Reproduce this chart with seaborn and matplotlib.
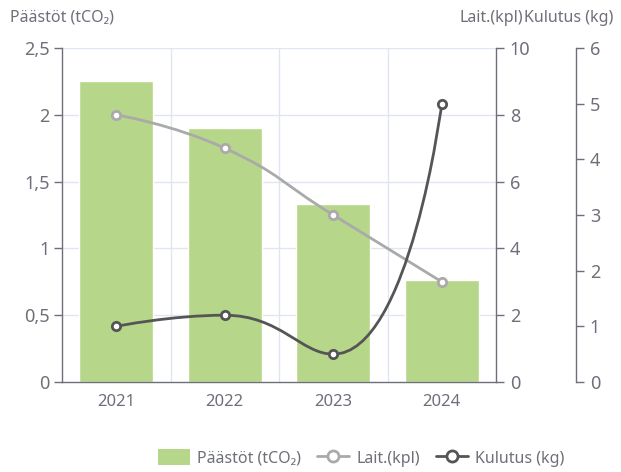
import numpy as np
import pandas as pd
import matplotlib
matplotlib.use("Agg")
import matplotlib.pyplot as plt
from matplotlib.path import Path
from matplotlib.patches import PathPatch, Patch
from matplotlib.lines import Line2D
import seaborn as sns

# ---- data ----
years = ["2021", "2022", "2023", "2024"]
paastot = [2.25, 1.90, 1.33, 0.76]
laitteet = [8.0, 7.0, 5.0, 3.0]
kulutus = [1.0, 1.2, 0.5, 5.0]
left_ticks = [0, 0.5, 1, 1.5, 2, 2.5]
left_ticklabels = ["0", "0,5", "1", "1,5", "2", "2,5"]
mid_ticks = [0, 2, 4, 6, 8, 10]
right_ticks = [0, 1, 2, 3, 4, 5, 6]

sns.set_theme(style="white")
plt.rcParams["font.family"] = ["Noto Sans", "DejaVu Sans"]

TXT = "#6e7079"
AX = "#6e7079"
GRID = "#e0e6f1"
GREEN = "#b6d68a"
LIGHT = "#aaaaaa"
DARK = "#555555"

W, H = 621, 472
fig = plt.figure(figsize=(W / 100, H / 100), dpi=100)
L, R, T, B = 62, 496, 48, 382
ax = fig.add_axes([L / W, 1 - B / H, (R - L) / W, (B - T) / H])

df = pd.DataFrame({"year": years, "val": paastot})
sns.barplot(data=df, x="year", y="val", ax=ax, color=GREEN, saturation=1,
            width=0.68, zorder=2)
ax.set_xlim(-0.5, 3.5)
ax.set_ylim(0, 2.5)
ax.set_xlabel("")
ax.set_ylabel("")
ax.set_yticks(left_ticks)
ax.set_yticklabels(left_ticklabels)
ax.set_xticks(range(len(years)))
ax.set_xticklabels(years)
ax.set_xticks(np.arange(-0.5, len(years)), minor=True)
ax.tick_params(axis="x", which="major", length=0, pad=9, labelsize=12, labelcolor=TXT)
ax.tick_params(axis="x", which="minor", length=5, width=1, color=AX, direction="out")
ax.tick_params(axis="y", length=6, width=1, color=AX, pad=3, labelsize=13, labelcolor=TXT,
               direction="out")
for y in left_ticks[1:]:
    ax.axhline(y, color=GRID, lw=1, zorder=0)
for x in np.arange(0.5, len(years) - 0.5):
    ax.axvline(x, color=GRID, lw=1, zorder=0)
for s in ["top", "right"]:
    ax.spines[s].set_visible(False)
for s in ["left", "bottom"]:
    ax.spines[s].set_color(AX)
    ax.spines[s].set_linewidth(1)
ax.spines["bottom"].set_zorder(5)

ax2 = ax.twinx()
ax2.set_ylim(0, 10)
ax2.set_yticks(mid_ticks)
ax3 = ax.twinx()
ax3.set_ylim(0, 6)
ax3.set_yticks(right_ticks)
ax3.spines["right"].set_position(("axes", (576 - L) / (R - L)))
for a in (ax2, ax3):
    for s in ["top", "left", "bottom"]:
        a.spines[s].set_visible(False)
    a.spines["right"].set_color(AX)
    a.spines["right"].set_linewidth(1)
    a.tick_params(axis="y", length=6, width=1, color=AX, pad=4, labelsize=13,
                  labelcolor=TXT, direction="out")
    a.grid(False)
    a.set_xlim(-0.5, 3.5)


def smooth_line(a, xs, ys, color, smooth=0.5):
    pts = a.transData.transform(np.column_stack([xs, ys]))
    n = len(pts)
    verts = [pts[0]]
    codes = [Path.MOVETO]
    cp0 = pts[0].copy()
    for i in range(1, n):
        p = pts[i]
        prev = pts[i - 1]
        if i == n - 1:
            cp1 = p.copy()
            ncp0 = p.copy()
        else:
            nxt = pts[i + 1]
            v = nxt - prev
            lp = np.hypot(*(p - prev))
            ln = np.hypot(*(nxt - p))
            r = ln / (ln + lp)
            ncp0 = p + v * smooth * r
            ncp0 = np.minimum(ncp0, np.maximum(nxt, p))
            ncp0 = np.maximum(ncp0, np.minimum(nxt, p))
            v = ncp0 - p
            cp1 = p - v * lp / ln
            cp1 = np.minimum(cp1, np.maximum(prev, p))
            cp1 = np.maximum(cp1, np.minimum(prev, p))
            v = p - cp1
            ncp0 = p + v * ln / lp
        verts += [cp0, cp1, p]
        codes += [Path.CURVE4] * 3
        cp0 = ncp0
    verts = a.transData.inverted().transform(np.array(verts))
    a.add_patch(PathPatch(Path(verts, codes), fill=False, edgecolor=color, lw=2,
                          zorder=3, capstyle="round"))
    a.plot(xs, ys, linestyle="none", marker="o", markersize=6, markerfacecolor="white",
           markeredgecolor=color, markeredgewidth=2, zorder=4)


xs = np.arange(len(years))
smooth_line(ax2, xs, laitteet, LIGHT)
smooth_line(ax3, xs, kulutus, DARK)

# axis names
fig.text(62 / W, 1 - 18 / H, "Päästöt (tCO₂)", ha="center", va="center", fontsize=11.5, color=TXT)
fig.text(491 / W, 1 - 18 / H, "Lait.(kpl)", ha="center", va="center", fontsize=11.5, color=TXT)
fig.text(569 / W, 1 - 18 / H, "Kulutus (kg)", ha="center", va="center", fontsize=11.5, color=TXT)

handles = [
    Patch(facecolor=GREEN, edgecolor="none", label="Päästöt (tCO₂)"),
    Line2D([], [], color=LIGHT, lw=2, marker="o", markersize=8, markerfacecolor="white",
           markeredgecolor=LIGHT, markeredgewidth=2, label="Lait.(kpl)"),
    Line2D([], [], color=DARK, lw=2, marker="o", markersize=8, markerfacecolor="white",
           markeredgecolor=DARK, markeredgewidth=2, label="Kulutus (kg)"),
]
leg = fig.legend(handles=handles, loc="center", bbox_to_anchor=(361 / W, 1 - 458 / H),
                 ncol=3, frameon=False, fontsize=11.5, handlelength=2.0, handleheight=1.1,
                 columnspacing=1.0, handletextpad=0.45, labelcolor=TXT)

fig.savefig("out.png", dpi=100)
